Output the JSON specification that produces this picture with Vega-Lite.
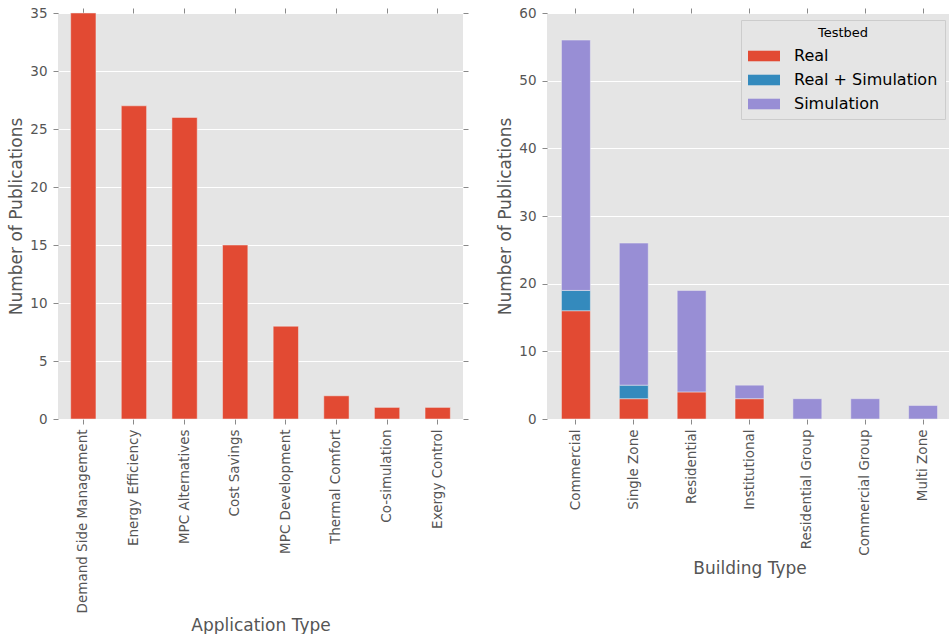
{
  "$schema": "https://vega.github.io/schema/vega-lite/v6.json",
  "background": "white",
  "padding": {"left": 7, "top": 6, "right": 0, "bottom": 0},
  "datasets": {
    "apps": [
      {"app": "Demand Side Management", "count": 35},
      {"app": "Energy Efficiency", "count": 27},
      {"app": "MPC Alternatives", "count": 26},
      {"app": "Cost Savings", "count": 15},
      {"app": "MPC Development", "count": 8},
      {"app": "Thermal Comfort", "count": 2},
      {"app": "Co-simulation", "count": 1},
      {"app": "Exergy Control", "count": 1}
    ],
    "buildings": [
      {"building": "Commercial", "testbed": "Real", "count": 16},
      {"building": "Commercial", "testbed": "Real + Simulation", "count": 3},
      {"building": "Commercial", "testbed": "Simulation", "count": 37},
      {"building": "Single Zone", "testbed": "Real", "count": 3},
      {"building": "Single Zone", "testbed": "Real + Simulation", "count": 2},
      {"building": "Single Zone", "testbed": "Simulation", "count": 21},
      {"building": "Residential", "testbed": "Real", "count": 4},
      {"building": "Residential", "testbed": "Simulation", "count": 15},
      {"building": "Institutional", "testbed": "Real", "count": 3},
      {"building": "Institutional", "testbed": "Simulation", "count": 2},
      {"building": "Residential Group", "testbed": "Simulation", "count": 3},
      {"building": "Commercial Group", "testbed": "Simulation", "count": 3},
      {"building": "Multi Zone", "testbed": "Simulation", "count": 2}
    ]
  },
  "hconcat": [
    {
      "width": 405,
      "height": 406,
      "data": {"name": "apps"},
      "layer": [
        {
          "mark": {"type": "bar", "color": "#E24A33", "stroke": "#eeeeee", "strokeWidth": 0.5},
          "encoding": {
            "x": {"field": "app", "type": "nominal", "sort": null,
              "scale": {"paddingInner": 0.5, "paddingOuter": 0.25},
              "axis": {"title": "Application Type", "labelAngle": -90, "labelPadding": 5, "labelLimit": 0, "bandPosition": 0.5, "titlePadding": 5}},
            "y": {"field": "count", "type": "quantitative",
              "scale": {"domain": [0, 35], "nice": false},
              "axis": {"title": "Number of Publications", "values": [0, 5, 10, 15, 20, 25, 30, 35], "labelPadding": 6, "titlePadding": 4}}
          }
        },
        {
          "mark": {"type": "bar", "opacity": 0},
          "encoding": {
            "x": {"field": "app", "type": "nominal", "sort": null,
              "axis": {"orient": "top", "labels": false, "title": null, "grid": false, "bandPosition": 0.5}},
            "y": {"field": "count", "type": "quantitative",
              "axis": {"orient": "right", "labels": false, "title": null, "grid": false, "values": [0, 5, 10, 15, 20, 25, 30, 35]}}
          }
        }
      ],
      "resolve": {"axis": {"x": "independent", "y": "independent"}}
    },
    {
      "width": 405,
      "height": 406,
      "data": {"name": "buildings"},
      "layer": [
        {
          "mark": {"type": "bar", "stroke": "#eeeeee", "strokeWidth": 0.5},
          "encoding": {
            "x": {"field": "building", "type": "nominal",
              "sort": ["Commercial", "Single Zone", "Residential", "Institutional", "Residential Group", "Commercial Group", "Multi Zone"],
              "scale": {"paddingInner": 0.5, "paddingOuter": 0.25},
              "axis": {"title": "Building Type", "labelAngle": -90, "labelPadding": 5, "labelLimit": 0, "bandPosition": 0.5, "titlePadding": 5}},
            "y": {"field": "count", "type": "quantitative", "aggregate": "sum",
              "scale": {"domain": [0, 60], "nice": false},
              "axis": {"title": "Number of Publications", "values": [0, 10, 20, 30, 40, 50, 60], "labelPadding": 6, "titlePadding": 4}},
            "color": {"field": "testbed", "type": "nominal",
              "scale": {"domain": ["Real", "Real + Simulation", "Simulation"], "range": ["#E24A33", "#348ABD", "#988ED5"]},
              "legend": {"title": "Testbed", "orient": "top-right"}},
            "order": {"field": "testbed", "sort": "ascending"}
          }
        },
        {
          "mark": {"type": "bar", "opacity": 0},
          "encoding": {
            "x": {"field": "building", "type": "nominal",
              "sort": ["Commercial", "Single Zone", "Residential", "Institutional", "Residential Group", "Commercial Group", "Multi Zone"],
              "axis": {"orient": "top", "labels": false, "title": null, "grid": false, "bandPosition": 0.5}},
            "y": {"field": "count", "type": "quantitative", "aggregate": "sum",
              "axis": {"orient": "right", "labels": false, "title": null, "grid": false, "values": [0, 10, 20, 30, 40, 50, 60]}}
          }
        }
      ],
      "resolve": {"axis": {"x": "independent", "y": "independent"}}
    }
  ],
  "resolve": {"scale": {"color": "independent"}, "legend": {"color": "independent"}},
  "config": {
    "font": "DejaVu Sans",
    "concat": {"spacing": 27},
    "view": {"fill": "#E5E5E5", "stroke": null},
    "axis": {
      "domain": false,
      "gridColor": "#ffffff",
      "gridWidth": 1,
      "gridOpacity": 1,
      "tickColor": "#8a8a8a",
      "tickSize": 5,
      "tickWidth": 1,
      "labelColor": "#555555",
      "labelFontSize": 13.5,
      "labelFont": "DejaVu Sans",
      "titleColor": "#555555",
      "titleFontSize": 17,
      "titleFont": "DejaVu Sans",
      "titleFontWeight": "normal"
    },
    "legend": {
      "offset": 7,
      "padding": 7,
      "fillColor": "#E5E5E5",
      "strokeColor": "#cccccc",
      "titleAnchor": "middle",
      "titleFontSize": 13,
      "titleFontWeight": "normal",
      "titleColor": "#000000",
      "titleFont": "DejaVu Sans",
      "titlePadding": 0,
      "labelFontSize": 16,
      "labelColor": "#000000",
      "labelFont": "DejaVu Sans",
      "labelOffset": 14,
      "symbolType": "M-1,-0.33H1V0.33H-1Z",
      "symbolSize": 1024,
      "symbolStrokeWidth": 0,
      "symbolOpacity": 1,
      "rowPadding": -1
    }
  }
}
